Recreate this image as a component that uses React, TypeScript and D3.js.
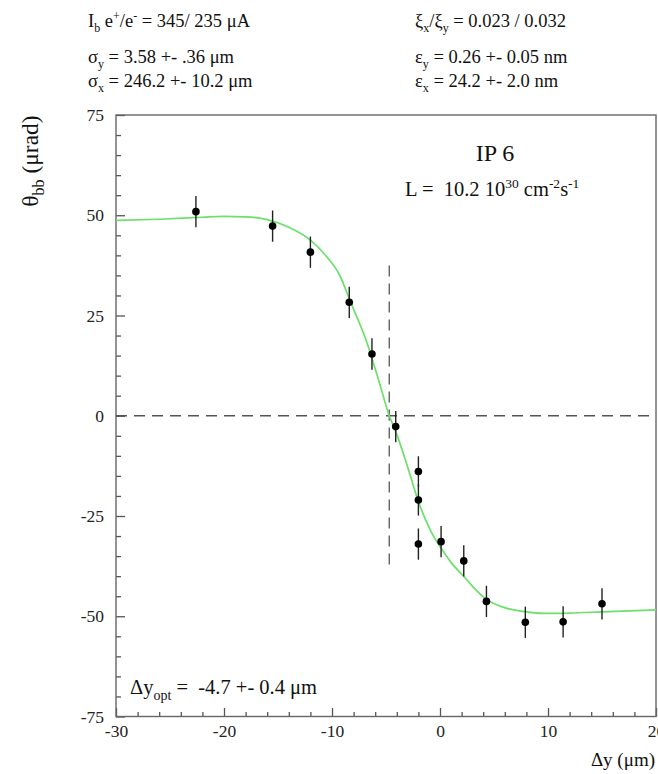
import React, { useEffect, useRef } from "react";
import * as d3 from "d3";

// measured beam-beam deflection vs vertical offset (IP 6)
const dyValues = [-22.6, -15.5, -12.0, -8.4, -6.3, -4.1, -2.0, -2.0, -2.0, 0.1, 2.2, 4.3, 7.9, 11.4, 15.0];
const thetaValues = [50.9, 47.3, 40.8, 28.3, 15.4, -2.7, -13.9, -21.0, -32.0, -31.4, -36.2, -46.3, -51.5, -51.4, -46.9];
const thetaErrors = [3.9, 3.9, 3.9, 3.9, 3.9, 3.9, 3.8, 3.9, 3.9, 3.9, 3.9, 3.9, 3.9, 3.9, 3.9];

// fitted curve
const fitDy = [-30, -26, -22, -20, -18, -16, -14, -12, -10.5, -9.3, -8.3, -6.8, -5.6, -4.7, -4.2, -3.1, -2.0, -0.9, 0.1, 1.0, 2.2, 3.0, 4.3, 5.9, 7.7, 9.6, 12, 15, 20];
const fitTheta = [48.7, 49.0, 49.5, 49.7, 49.6, 48.9, 47.0, 43.8, 39.7, 35.1, 28.5, 18.5, 8.1, 0, -3.2, -11.9, -21.4, -28.5, -33.0, -36.5, -40.1, -42.5, -45.8, -47.8, -48.8, -49.3, -49.2, -48.9, -48.4];

const xTicks = [-30, -20, -10, 0, 10, 20];
const xTickLabels = ["-30", "-20", "-10", "0", "10", "20"];
const yTicks = [-75, -50, -25, 0, 25, 50, 75];
const yTickLabels = ["-75", "-50", "-25", "0", "25", "50", "75"];
const dyOpt = -4.7;
const optHalfHeight = 37.5;

const W = 658;
const H = 774;
const left = 116, right = 656, top = 115, bottom = 716.5;
const serif = "Liberation Serif, DejaVu Serif, serif";

const App = () => {
  const ref = useRef<SVGGElement>(null);

  useEffect(() => {
    const x = d3.scaleLinear().domain([-30, 20]).range([left, right]);
    const y = d3.scaleLinear().domain([-75, 75]).range([bottom, top]);
    const g = d3.select(ref.current);
    g.selectAll("*").remove();

    // minor + major ticks
    const xMinor = d3.range(-30, 21, 2).filter((v) => !xTicks.includes(v));
    const yMinor = d3.range(-75, 76, 5).filter((v) => !yTicks.includes(v));

    g.append("g").attr("transform", `translate(0,${bottom})`)
      .call(d3.axisBottom(x).tickValues(xMinor).tickSize(-4.5).tickSizeOuter(0).tickFormat(() => ""));
    g.append("g").attr("transform", `translate(0,${bottom})`)
      .call(d3.axisBottom(x).tickValues(xTicks).tickSize(-8.5).tickSizeOuter(0).tickPadding(8)
        .tickFormat((d, i) => xTickLabels[i]));
    g.append("g").attr("transform", `translate(${left},0)`)
      .call(d3.axisLeft(y).tickValues(yMinor).tickSize(-5).tickSizeOuter(0).tickFormat(() => ""));
    g.append("g").attr("transform", `translate(${left},0)`)
      .call(d3.axisLeft(y).tickValues(yTicks).tickSize(-9).tickSizeOuter(0).tickPadding(12)
        .tickFormat((d, i) => yTickLabels[i]));

    g.selectAll(".domain").remove();
    g.selectAll(".tick line").attr("stroke", "#555").attr("stroke-width", 1.3);
    g.selectAll(".tick text").attr("font-family", null).style("font-family", serif)
      .attr("font-size", 17.5).attr("fill", "#222");

    // frame
    g.append("rect").attr("x", left).attr("y", top).attr("width", right - left).attr("height", bottom - top)
      .attr("fill", "none").attr("stroke", "#666").attr("stroke-width", 1.4);

    // dashed reference lines
    g.append("line").attr("x1", left).attr("x2", right).attr("y1", y(0)).attr("y2", y(0))
      .attr("stroke", "#555").attr("stroke-width", 1.3).attr("stroke-dasharray", "11,7");
    g.append("line").attr("x1", x(dyOpt)).attr("x2", x(dyOpt))
      .attr("y1", y(optHalfHeight)).attr("y2", y(-optHalfHeight))
      .attr("stroke", "#555").attr("stroke-width", 1.3).attr("stroke-dasharray", "11,7");

    // fit
    const line = d3.line<number>().x((d, i) => x(fitDy[i])).y((d) => y(d)).curve(d3.curveMonotoneX);
    g.append("path").attr("d", line(fitTheta)).attr("fill", "none")
      .attr("stroke", "#6be06b").attr("stroke-width", 1.7);

    // data with error bars
    const pts = g.selectAll(".pt").data(thetaValues).enter().append("g");
    pts.append("line")
      .attr("x1", (d, i) => x(dyValues[i])).attr("x2", (d, i) => x(dyValues[i]))
      .attr("y1", (d, i) => y(d + thetaErrors[i])).attr("y2", (d, i) => y(d - thetaErrors[i]))
      .attr("stroke", "#222").attr("stroke-width", 1.4);
    pts.append("circle")
      .attr("cx", (d, i) => x(dyValues[i])).attr("cy", (d) => y(d))
      .attr("r", 3.8).attr("fill", "#000");
  }, []);

  return (
    <svg width={W} height={H} style={{ position: "absolute", left: 0, top: 0, background: "#fff", fontFamily: serif }}
      fill="#111">
      <g style={{ whiteSpace: "pre" }} fontSize={18.5}>
        <text x={88} y={27}>
          I<tspan dy="5" fontSize={12}>b</tspan><tspan dy="-5"> e</tspan>
          <tspan dy="-7" fontSize={12}>+</tspan><tspan dy="7">/e</tspan>
          <tspan dy="-7" fontSize={12}>-</tspan><tspan dy="7"> =  345/ 235 μA</tspan>
        </text>
        <text x={88} y={63}>
          σ<tspan dy="5" fontSize={12}>y</tspan><tspan dy="-5"> =  3.58 +- .36 μm</tspan>
        </text>
        <text x={88} y={87}>
          σ<tspan dy="5" fontSize={12}>x</tspan><tspan dy="-5"> = 246.2 +- 10.2 μm</tspan>
        </text>
        <text x={415} y={27}>
          ξ<tspan dy="5" fontSize={12}>x</tspan><tspan dy="-5">/ξ</tspan>
          <tspan dy="5" fontSize={12}>y</tspan><tspan dy="-5"> = 0.023 / 0.032</tspan>
        </text>
        <text x={415} y={63}>
          ε<tspan dy="5" fontSize={12}>y</tspan><tspan dy="-5"> = 0.26 +- 0.05 nm</tspan>
        </text>
        <text x={415} y={87}>
          ε<tspan dy="5" fontSize={12}>x</tspan><tspan dy="-5"> = 24.2 +- 2.0 nm</tspan>
        </text>
      </g>
      <g ref={ref} />
      <text x={495} y={161} fontSize={24} textAnchor="middle">IP 6</text>
      <text x={405} y={196} fontSize={20.5} style={{ whiteSpace: "pre" }}>
        L =  10.2 10<tspan dy="-8" fontSize={13.5}>30</tspan><tspan dy="8"> cm</tspan>
        <tspan dy="-8" fontSize={13.5}>-2</tspan><tspan dy="8">s</tspan>
        <tspan dy="-8" fontSize={13.5}>-1</tspan>
      </text>
      <text x={130} y={694} fontSize={20.5} style={{ whiteSpace: "pre" }}>
        Δy<tspan dy="6" fontSize={14}>opt</tspan><tspan dy="-6"> =  -4.7 +- 0.4 μm</tspan>
      </text>
      <text x={655} y={766} fontSize={19} textAnchor="end">Δy (μm)</text>
      <text transform="translate(38,161) rotate(-90)" fontSize={23.5} textAnchor="middle">
        θ<tspan dy="6" fontSize={16}>bb</tspan><tspan dy="-6"> (μrad)</tspan>
      </text>
    </svg>
  );
};

export default App;
